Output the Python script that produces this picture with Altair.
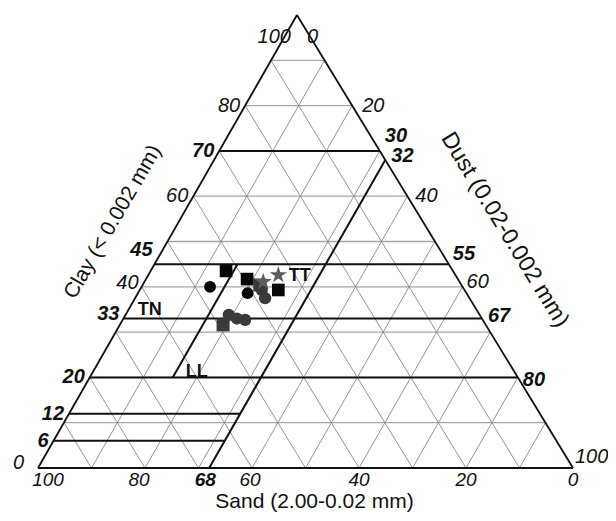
import altair as alt
import pandas as pd

# ---------------- data ----------------
grid_steps = [10, 20, 30, 40, 50, 60, 70, 80, 90]
clay_full_lines = [70, 45, 33, 20]
clay_short_lines = [12, 6]
short_lines_end_dust = 32
dust_line_value = 32
ll_line_dust = 15.5
ll_line_clay = [20, 45]

clay_ticks = [100, 80, 70, 60, 45, 40, 33, 20, 12, 6, 0]
clay_bold = [False, False, True, False, True, False, True, True, True, True, False]
dust_ticks = [0, 20, 30, 32, 40, 55, 60, 67, 80, 100]
dust_bold = [False, False, True, True, False, True, False, True, True, False]
sand_ticks = [100, 80, 68, 60, 40, 20, 0]
sand_bold = [False, False, True, False, False, False, False]

pt_group = ["gci", "gci", "gci", "gci", "gci", "gsq", "gsq",
            "bsq", "bsq", "bsq", "bci", "bci", "gst", "gst"]
pt_clay = [39.3, 37.5, 33.8, 33.0, 32.7, 40.4, 31.6,
           43.5, 41.7, 39.3, 40.0, 38.6, 41.1, 42.6]
pt_dust = [22.8, 24.3, 19.3, 21.2, 22.9, 21.9, 19.3,
           14.1, 18.9, 25.9, 12.8, 20.5, 22.2, 24.3]

zone_labels = ["TN", "LL", "TT"]
zone_clay = [34.9, 21.2, 42.4]
zone_dust = [4.0, 19.4, 28.4]

titles = ["Clay (< 0.002 mm)", "Dust (0.02-0.002 mm)", "Sand (2.00-0.02 mm)"]

# ---------------- layout / style ----------------
SKEW = 0.484
PXX, PXY = 5.35, 4.53
OX, OY = 30, 460          # plot px of sand vertex
W, H = 600, 505
FONT = "Liberation Sans"
TICK_FS = 20

clay_nudge = {100: (-6, 22), 0: (-14, -5), 45: (-2, -14), 40: (-3, -4), 33: (-4, -5)}
dust_nudge = {0: (10, 22), 20: (10, 0), 30: (5, -15), 32: (6, -4), 55: (4, -10),
              60: (4, -5), 67: (6, -3), 80: (5, 3), 100: (2, -11)}
sand_nudge = {100: (10, 3), 80: (-6, 3), 68: (-4, 3), 60: (-2, 3)}


def cx(clay, dust):
    return dust + SKEW * clay


xs = alt.Scale(domain=[-OX / PXX, (W - OX) / PXX], nice=False, zero=False)
ys = alt.Scale(domain=[(OY - H) / PXY, OY / PXY], nice=False, zero=False)


def seg_df(segs):
    rows = []
    for (c1, d1, c2, d2) in segs:
        rows.append({"x": cx(c1, d1), "y": c1, "x2": cx(c2, d2), "y2": c2})
    return pd.DataFrame(rows)


def rules(segs, color, width):
    return alt.Chart(seg_df(segs)).mark_rule(color=color, strokeWidth=width).encode(
        x=alt.X("x:Q", scale=xs, axis=None),
        y=alt.Y("y:Q", scale=ys, axis=None),
        x2="x2:Q",
        y2="y2:Q",
    )


grid_h, grid_d = [], []
for v in grid_steps:
    grid_h.append((v, 0, v, 100 - v))          # constant clay
    grid_d.append((0, v, 100 - v, v))          # constant dust
    grid_d.append((0, 100 - v, 100 - v, 0))    # constant sand

edges = [(0, 0, 0, 100), (0, 100, 100, 0), (100, 0, 0, 0)]

bold = [(c, 0, c, 100 - c) for c in clay_full_lines]
bold += [(c, 0, c, short_lines_end_dust) for c in clay_short_lines]
bold += [(0, dust_line_value, 100 - dust_line_value, dust_line_value)]
bold += [(ll_line_clay[0], ll_line_dust, ll_line_clay[1], ll_line_dust)]

layers = [
    rules(grid_h, "#a6a6a6", 1.3),
    rules(grid_d, "#8a8a8a", 0.9),
    rules(edges, "#111111", 1.8),
    rules(bold, "#111111", 2),
]


def text_layer(x, y, txt, bold_flag, align, baseline, dx, dy, fs=TICK_FS, italic=True, angle=0):
    df = pd.DataFrame({"x": [x], "y": [y], "t": [txt]})
    kw = dict(font=FONT, fontSize=fs, align=align, baseline=baseline, dx=dx, dy=dy,
              color="#111111", fontWeight="bold" if bold_flag else "normal")
    if italic:
        kw["fontStyle"] = "italic"
    if angle:
        kw["angle"] = angle
    return alt.Chart(df).mark_text(**kw).encode(
        x=alt.X("x:Q", scale=xs, axis=None), y=alt.Y("y:Q", scale=ys, axis=None), text="t:N")


for v, b in zip(clay_ticks, clay_bold):
    dx, dy = clay_nudge.get(v, (-5, 0))
    layers.append(text_layer(cx(v, 0), v, str(v), b, "right", "middle", dx, dy))
for v, b in zip(dust_ticks, dust_bold):
    dx, dy = dust_nudge.get(v, (8, 0))
    layers.append(text_layer(cx(100 - v, v), 100 - v, str(v), b, "left", "middle", dx, dy))
for v, b in zip(sand_ticks, sand_bold):
    dx, dy = sand_nudge.get(v, (0, 3))
    layers.append(text_layer(cx(0, 100 - v), 0, str(v), b, "center", "top", dx, dy, fs=19))

# axis titles
layers.append(text_layer(cx(48, 0), 48, titles[0], False, "center", "middle", 0, -57,
                         fs=21, italic=False, angle=300))
layers.append(text_layer(cx(45, 55), 45, titles[1], False, "center", "middle", 0, -66,
                         fs=23, italic=False, angle=58.5))
layers.append(text_layer(cx(0, 50), 0, titles[2], False, "center", "alphabetic", 9, 40,
                         fs=21, italic=False))

# points
pts = pd.DataFrame({"g": pt_group, "clay": pt_clay, "dust": pt_dust})
pts["x"] = pts["dust"] + SKEW * pts["clay"]
pts["y"] = pts["clay"]
star = ("M0,-1L0.2245,-0.309L0.951,-0.309L0.363,0.118L0.588,0.809L0,0.382"
        "L-0.588,0.809L-0.363,0.118L-0.951,-0.309L-0.2245,-0.309Z")
styles = [
    ("gsq", "square", "#3a3a3a", 170),
    ("gci", "circle", "#3a3a3a", 150),
    ("bsq", "square", "#080808", 160),
    ("bci", "circle", "#080808", 140),
    ("gst", star, "#5e5e5e", 330),
]
for g, shape, col, size in styles:
    layers.append(
        alt.Chart(pts[pts["g"] == g]).mark_point(filled=True, shape=shape, color=col, size=size, opacity=1)
        .encode(x=alt.X("x:Q", scale=xs, axis=None), y=alt.Y("y:Q", scale=ys, axis=None))
    )

# zone labels
for lab, c, d in zip(zone_labels, zone_clay, zone_dust):
    layers.append(text_layer(cx(c, d), c, lab, True, "center", "middle", 0, 0, fs=18, italic=False))

chart = alt.layer(*layers).properties(
    width=W, height=H,
    autosize=alt.AutoSizeParams(type="none"),
    padding=0,
).configure_view(stroke=None)

chart.save("out.html", embed_options={"renderer": "svg", "actions": False})
